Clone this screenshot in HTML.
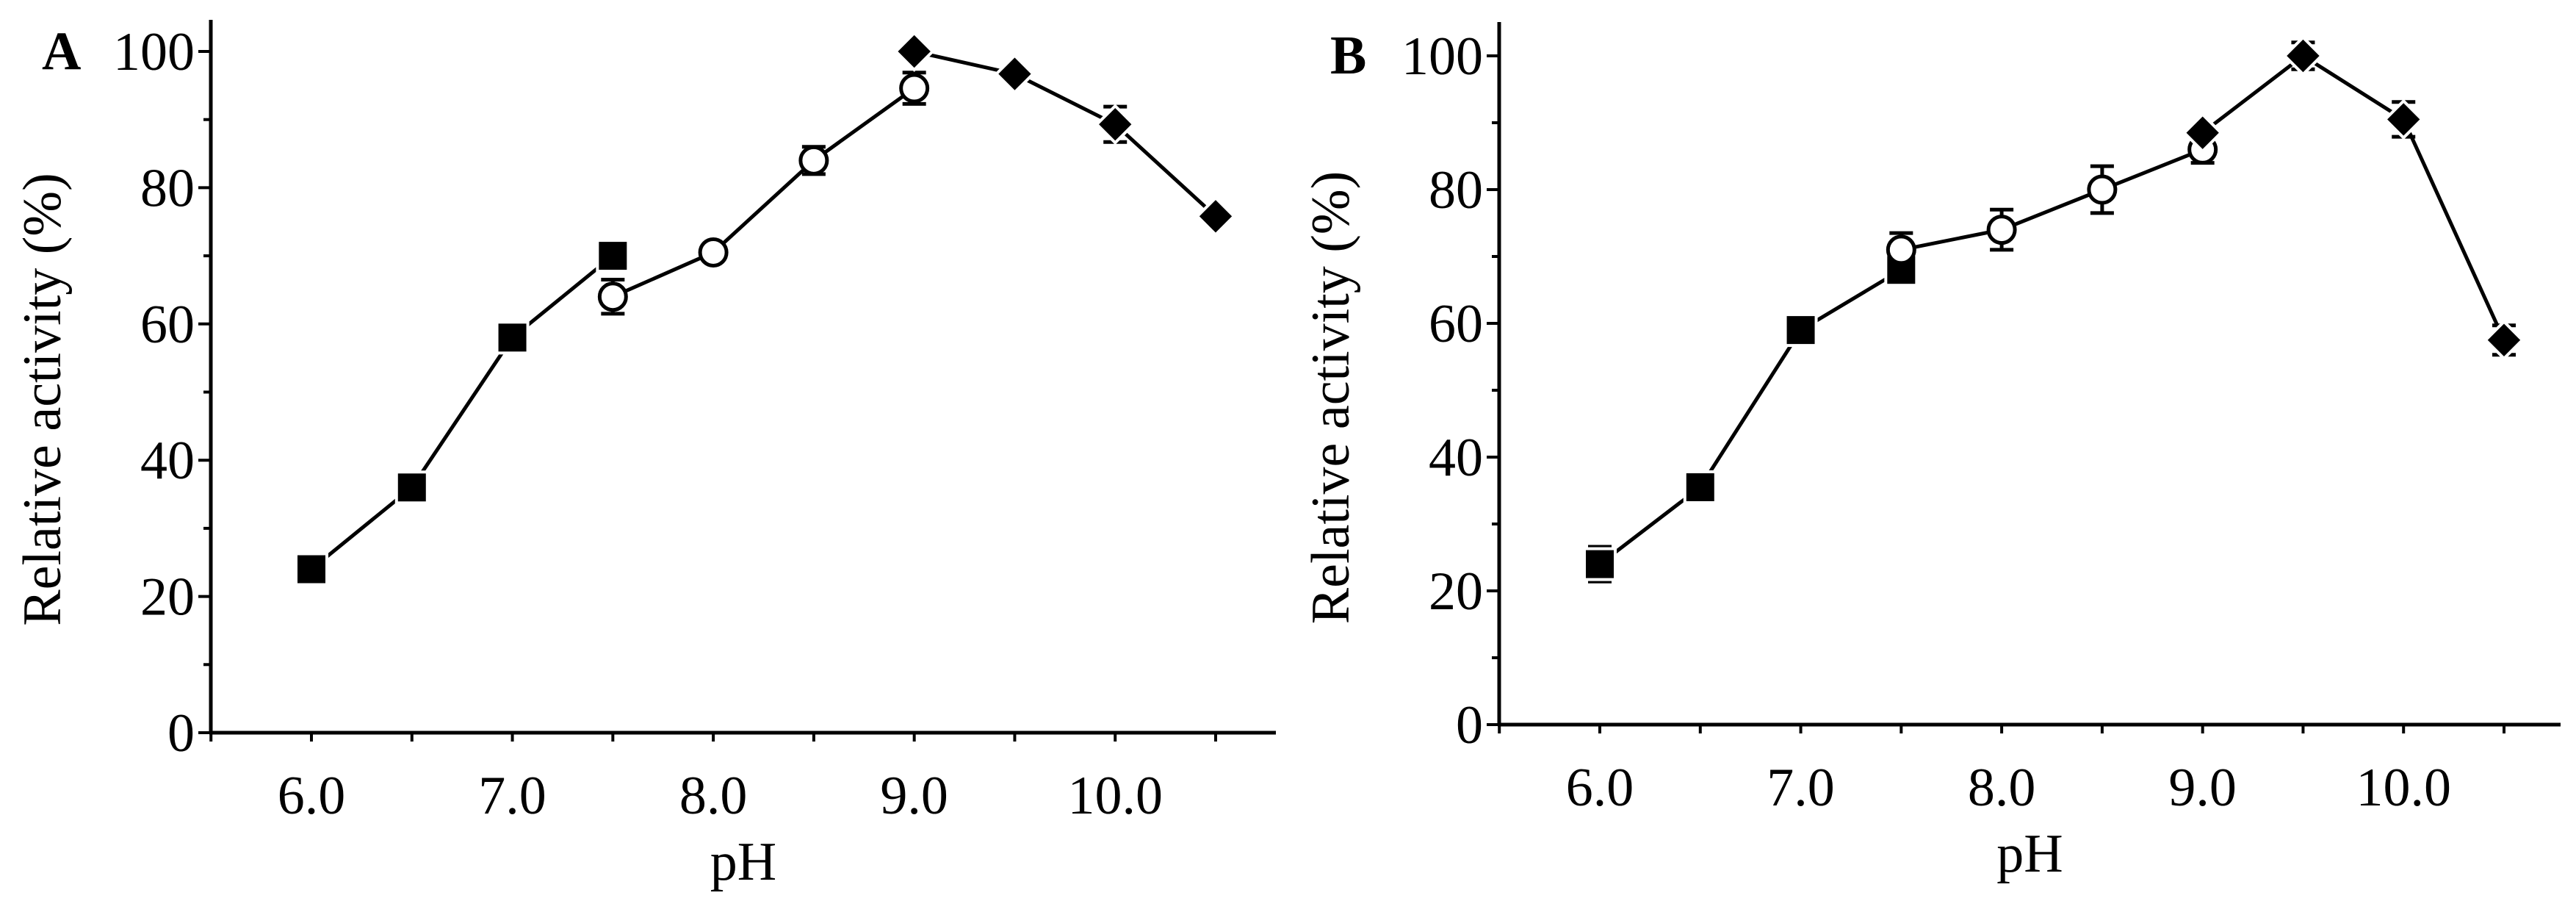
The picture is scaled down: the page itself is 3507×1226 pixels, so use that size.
<!DOCTYPE html>
<html><head><meta charset="utf-8"><style>
html,body{margin:0;padding:0;background:#fff;}
svg{display:block;}
text{font-family:"Liberation Serif","Times New Roman",Times,serif;}
</style></head><body>
<svg id="fig" width="3507" height="1226" viewBox="0 0 3507 1226" xmlns="http://www.w3.org/2000/svg"></svg>
<script>
const phValues = [6.0, 6.5, 7.0, 7.5, 8.0, 8.5, 9.0, 9.5, 10.0, 10.5];
const xTickLabels = ["6.0","7.0","8.0","9.0","10.0"];
const xTickValues = [6,7,8,9,10];
const yTickValues = [0,20,40,60,80,100];

const aSquareX = [6.0, 6.5, 7.0, 7.5];
const aSquareY = [24, 36, 58, 70];
const aSquareErr = [2, 0.8, 1, 0.8];
const aCircleX = [7.5, 8.0, 8.5, 9.0];
const aCircleY = [64, 70.5, 84, 94.6];
const aCircleErr = [2.5, 1, 2, 2.3];
const aDiamondX = [9.0, 9.5, 10.0, 10.5];
const aDiamondY = [100, 96.7, 89.3, 75.8];
const aDiamondErr = [1, 0.8, 2.6, 1];

const bSquareX = [6.0, 6.5, 7.0, 7.5];
const bSquareY = [24, 35.5, 59, 68];
const bSquareErr = [2.6, 1.2, 2, 0.8];
const bCircleX = [7.5, 8.0, 8.5, 9.0];
const bCircleY = [71, 74, 80, 86];
const bCircleErr = [2.5, 3, 3.5, 2];
const bDiamondX = [9.0, 9.5, 10.0, 10.5];
const bDiamondY = [88.5, 100, 90.5, 57.5];
const bDiamondErr = [1, 2, 2.6, 2.2];

const NS = "http://www.w3.org/2000/svg";
const FONT = '"Liberation Serif", "Times New Roman", Times, serif';
const svg = document.getElementById('fig');
function mk(tag, attrs, parent){const e=document.createElementNS(NS,tag);for(const k in attrs)e.setAttribute(k,attrs[k]);if(tag==='text')e.setAttribute('font-family',FONT);(parent||svg).appendChild(e);return e;}

function panel(p){
  const g = mk('g',{});
  
  
  const X = v => p.x6 + (v-6)*(p.x105-p.x6)/4.5;
  const Y = v => p.y0 + v*(p.y100-p.y0)/100;
  const ya = mk('line',{x1:p.ax,y1:p.top,x2:p.ax,y2:p.y0+2,stroke:'#000','stroke-width':5},g);
   
  const xa = mk('line',{x1:p.ax-2,y1:p.y0,x2:p.right,y2:p.y0,stroke:'#000','stroke-width':5},g);
   
  for(let v=0; v<=100; v+=10){
    const major = v%20===0;
    mk('line',{x1:p.ax-(major?17:10),y1:Y(v),x2:p.ax,y2:Y(v),stroke:'#000','stroke-width':4},g);
  }
  yTickValues.forEach(v=>{
    const t = mk('text',{x:p.ax-22,y:Y(v)+25,'text-anchor':'end','font-size':74},g);
    t.textContent = v;
     
  });
  for(let v=5.5; v<=10.81; v+=0.5){
    mk('line',{x1:X(v),y1:p.y0,x2:X(v),y2:p.y0+12,stroke:'#000','stroke-width':4},g);
  }
  xTickValues.forEach((v,i)=>{
    const t = mk('text',{x:X(v),y:p.y0+110,'text-anchor':'middle','font-size':74},g);
    t.textContent = xTickLabels[i];
     
  });
  const xt = mk('text',{x:(p.ax+p.right)/2,y:p.y0+200,'text-anchor':'middle','font-size':74},g);
  xt.textContent='pH';
   
  const yt = mk('text',{x:0,y:0,'text-anchor':'middle','font-size':74,transform:`translate(${p.ax-205},${(p.y0+p.y100)/2+10}) rotate(-90)`},g);
  yt.textContent='Relative activity (%)';
   
  const pl = mk('text',{x:p.ax-230,y:p.y100+24,'font-size':74,'font-weight':'bold'},g);
  pl.textContent=p.label;
   

  function series(xs,ys,es,shape,name){
    const sg = mk('g',{},g);
    
    
    const pts = xs.map((x,i)=>X(x)+','+Y(ys[i])).join(' ');
    const ln = mk('polyline',{points:pts,fill:'none',stroke:'#000','stroke-width':5},sg);
     
    xs.forEach((x,i)=>{
      const cx=X(x), cy=Y(ys[i]);
      const eh = Math.abs(Y(ys[i]+es[i])-cy);
      if(eh>5){
        mk('line',{x1:cx,y1:cy-eh,x2:cx,y2:cy+eh,stroke:'#000','stroke-width':5},sg);
        mk('line',{x1:cx-16,y1:cy-eh,x2:cx+16,y2:cy-eh,stroke:'#000','stroke-width':5},sg);
        mk('line',{x1:cx-16,y1:cy+eh,x2:cx+16,y2:cy+eh,stroke:'#000','stroke-width':5},sg);
      }
      let m;
      if(shape==='square') m = mk('rect',{x:cx-21,y:cy-21,width:42,height:42,fill:'#000',stroke:'#fff','stroke-width':4},sg);
      else if(shape==='circle') m = mk('circle',{cx:cx,cy:cy,r:18,fill:'#fff',stroke:'#000','stroke-width':5},sg);
      else m = mk('polygon',{points:`${cx},${cy-25} ${cx+25},${cy} ${cx},${cy+25} ${cx-25},${cy}`,fill:'#000',stroke:'#fff','stroke-width':4},sg);
      
      
    });
  }
  series(p.sq[0],p.sq[1],p.sq[2],'square','square');
  series(p.ci[0],p.ci[1],p.ci[2],'circle','circle');
  series(p.di[0],p.di[1],p.di[2],'diamond','diamond');
}

panel({label:'A',ax:287,top:27,right:1737,y0:997,y100:70,x6:424,x105:1655,
  sq:[aSquareX,aSquareY,aSquareErr],ci:[aCircleX,aCircleY,aCircleErr],di:[aDiamondX,aDiamondY,aDiamondErr]});
panel({label:'B',ax:2041,top:30,right:3486,y0:986,y100:76,x6:2178,x105:3409,
  sq:[bSquareX,bSquareY,bSquareErr],ci:[bCircleX,bCircleY,bCircleErr],di:[bDiamondX,bDiamondY,bDiamondErr]});
</script>
</body></html>
